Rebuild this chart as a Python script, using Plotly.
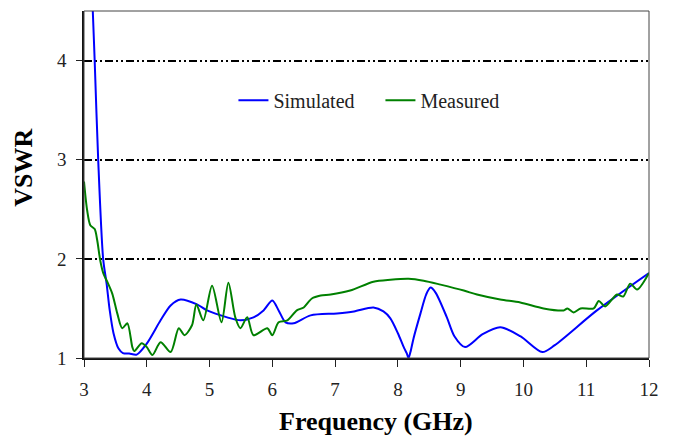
import plotly.graph_objects as go

# ---- data ----
sim_f = [3.12, 3.14, 3.17, 3.226, 3.305, 3.36, 3.41, 3.47, 3.55, 3.62, 3.72, 3.84,
         4.0, 4.22, 4.38, 4.54, 4.80, 4.96, 5.28, 5.49, 5.70, 5.86, 6.0, 6.10, 6.21,
         6.34, 6.61, 7.03, 7.30, 7.61, 7.77, 7.88, 8.0, 8.10, 8.14, 8.17, 8.20, 8.25,
         8.36, 8.45, 8.52, 8.60, 8.78, 8.90, 9.07, 9.35, 9.63, 9.95, 10.30, 10.50,
         11.17, 12.0]
sim_v = [4.8, 4.5, 4.0, 3.0, 2.0, 1.75, 1.48, 1.25, 1.095, 1.05, 1.045, 1.034,
         1.145, 1.38, 1.53, 1.59, 1.54, 1.48, 1.41, 1.38, 1.41, 1.48, 1.58, 1.48, 1.36,
         1.35, 1.43, 1.45, 1.47, 1.51, 1.47, 1.40, 1.25, 1.10, 1.05, 1.0, 1.06, 1.2,
         1.45, 1.64, 1.71, 1.66, 1.41, 1.22, 1.11, 1.24, 1.31, 1.22, 1.06, 1.13,
         1.48, 1.857]

meas_f = [3.0, 3.05, 3.10, 3.17, 3.21, 3.26, 3.31, 3.37, 3.45, 3.53, 3.61, 3.69,
          3.77, 3.80, 3.92, 4.0, 4.09, 4.22, 4.38, 4.51, 4.60, 4.72, 4.79, 4.90,
          5.04, 5.19, 5.30, 5.41, 5.49, 5.60, 5.70, 5.92, 6.0, 6.10, 6.24, 6.39,
          6.50, 6.63, 6.77, 6.93, 7.24, 7.61, 7.88, 8.17, 8.41, 8.68, 9.05, 9.26,
          9.63, 9.95, 10.32, 10.64, 10.70, 10.80, 10.91, 11.12, 11.20, 11.30, 11.49,
          11.59, 11.70, 11.81, 12.0]
meas_v = [2.78, 2.49, 2.34, 2.30, 2.19, 1.98, 1.85, 1.77, 1.65, 1.45, 1.30, 1.35,
          1.11, 1.07, 1.15, 1.11, 1.03, 1.16, 1.06, 1.30, 1.23, 1.33, 1.54, 1.38,
          1.73, 1.36, 1.76, 1.41, 1.30, 1.41, 1.23, 1.30, 1.23, 1.36, 1.38, 1.48,
          1.51, 1.60, 1.63, 1.64, 1.68, 1.77, 1.79, 1.80, 1.78, 1.74, 1.68, 1.64,
          1.59, 1.56, 1.50, 1.48, 1.50, 1.46, 1.50, 1.50, 1.575, 1.52, 1.64,
          1.62, 1.75, 1.69, 1.857]

x_ticks = [3, 4, 5, 6, 7, 8, 9, 10, 11, 12]
y_ticks = [1, 2, 3, 4]

FONT = "'Times New Roman', 'Liberation Serif', 'DejaVu Serif', serif"

fig = go.Figure()
fig.add_trace(go.Scatter(x=sim_f, y=sim_v, mode="lines", name="Simulated",
                         line=dict(color="#0000FF", width=2, shape="spline", smoothing=0.8)))
fig.add_trace(go.Scatter(x=meas_f, y=meas_v, mode="lines", name="Measured",
                         line=dict(color="#008000", width=2, shape="spline", smoothing=0.8)))

fig.update_layout(
    width=673, height=439,
    margin=dict(l=83.5, r=24.3, t=10.7, b=81.3, pad=0),
    paper_bgcolor="white", plot_bgcolor="white",
    font=dict(family=FONT, size=19, color="#222"),
    showlegend=True,
    legend=dict(orientation="h", x=0.2645, y=0.7427, xanchor="left", yanchor="middle",
                font=dict(family=FONT, size=20, color="#222"),
                bgcolor="rgba(0,0,0,0)", itemwidth=30,
                entrywidth=102, entrywidthmode="pixels"),
    xaxis=dict(range=[3, 12], tickvals=x_ticks, ticks="outside", ticklen=7, tickwidth=1.3,
               tickcolor="#222", showline=True, linecolor="#111", linewidth=1.5,
               showgrid=False, zeroline=False, ticklabelstandoff=6,
               tickfont=dict(family=FONT, size=19, color="#222")),
    yaxis=dict(range=[1, 4.5], tickvals=y_ticks, ticks="outside", ticklen=6, tickwidth=1.3,
               tickcolor="#222", showline=True, linecolor="#111", linewidth=1.5,
               showgrid=True, gridcolor="#000", gridwidth=1.5,
               griddash="8px,3px,2px,3px,2px,3px", zeroline=False, ticklabelstandoff=6,
               tickfont=dict(family=FONT, size=19, color="#222")),
    shapes=[dict(type="rect", xref="paper", yref="paper", x0=0, x1=1, y0=0, y1=1,
                 line=dict(color="#444", width=1), layer="above")],
    annotations=[
        dict(text="<b>Frequency (GHz)</b>", xref="paper", yref="paper",
             x=(375.5 - 83.5) / 565.2, y=-(421 - 357.7) / 347.0,
             xanchor="center", yanchor="middle", showarrow=False,
             font=dict(family=FONT, size=26, color="#000")),
        dict(text="<b>VSWR</b>", xref="paper", yref="paper",
             x=-(83.5 - 23) / 565.2, y=(357.7 - 168) / 347.0, textangle=-90,
             xanchor="center", yanchor="middle", showarrow=False,
             font=dict(family=FONT, size=26, color="#000")),
    ],
)

fig.write_html("out.html")
